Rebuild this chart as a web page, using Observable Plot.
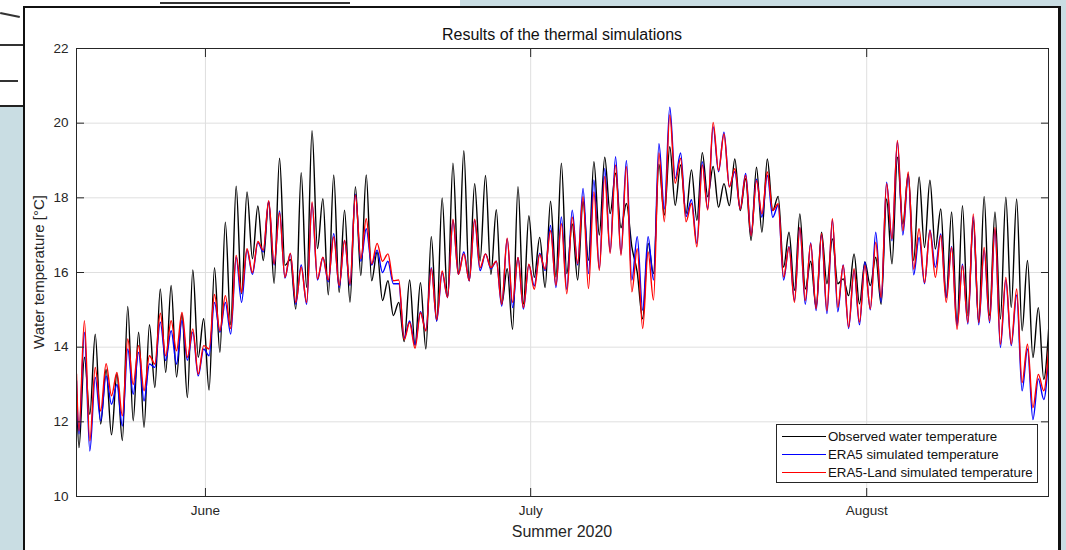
<!DOCTYPE html>
<html><head><meta charset="utf-8">
<script src="https://cdn.jsdelivr.net/npm/d3@7"></script>
<script src="https://cdn.jsdelivr.net/npm/@observablehq/plot@0.6"></script>
<style>
html,body{margin:0;padding:0;}
body{width:1066px;height:550px;overflow:hidden;background:#c9dde3;position:relative;font-family:"Liberation Sans",Arial,Helvetica,sans-serif;}
#bgwin{position:absolute;left:0;top:0;width:460px;height:105px;background:#fff;border-bottom:2px solid #222;}
.bgl{position:absolute;height:2px;background:#333;}
#fig{position:absolute;left:23px;top:6px;width:1033px;height:560px;background:#fff;border-left:2px solid #111;border-top:2px solid #111;border-right:3px solid #111;}
#chart{position:absolute;left:0;top:0;}
.lbl{position:absolute;color:#262626;white-space:nowrap;}
#title{left:76px;width:972px;top:26px;text-align:center;font-size:16px;line-height:18px;color:#111;}
#ylab{left:38px;top:272px;font-size:15px;transform:translate(-50%,-50%) rotate(-90deg);}
#xlab{left:562px;top:532px;font-size:16px;transform:translate(-50%,-50%);}
#legend{position:absolute;left:776px;top:424px;width:260px;height:57px;border:1px solid #262626;background:#fff;}
.row{position:absolute;left:0;height:18px;width:260px;}
.sample{position:absolute;left:5px;width:44px;top:8px;height:0;border-top:1.3px solid #000;}
.ltxt{position:absolute;left:51px;top:0;font-size:13.3px;line-height:18px;color:#111;}
</style></head>
<body>
<div id="bgwin"></div>
<div class="bgl" style="left:0;top:44px;width:23px;"></div>
<div class="bgl" style="left:0;top:80px;width:18px;"></div>
<div class="bgl" style="left:0;top:14px;width:20px;transform:rotate(12deg);"></div>
<div class="bgl" style="left:160px;top:2px;width:190px;"></div>
<div id="fig"></div>
<div id="chart"></div>
<div id="title" class="lbl">Results of the thermal simulations</div>
<div id="ylab" class="lbl">Water temperature [°C]</div>
<div id="xlab" class="lbl">Summer 2020</div>
<div id="legend"></div>
<script>
// ---- data ----
const seriesNames = ["Observed water temperature", "ERA5 simulated temperature", "ERA5-Land simulated temperature"];
const seriesColors = ["#000000", "#0000ff", "#ff0000"];
const firstDay = "2020-05-20";           // first day of the record
const axisStart = "2020-05-20T02:30Z";
const axisEnd = "2020-08-17T18:30Z";
const yTicks = [10, 12, 14, 16, 18, 20, 22];
const xTickDates = ["2020-06-01", "2020-07-01", "2020-08-01"];
const xTickLabels = ["June", "July", "August"];
const startValues = [12.74, 13.1, 13.28];

// daily minima / maxima, one value per day from 20 May
const obsMin = [11.31,12.2,11.94,11.65,11.5,12.03,11.85,12.92,13.32,13.2,12.65,13.73,12.85,13.86,14.6,15.43,16.37,16.32,15.71,16.19,15.02,15.6,16.64,15.4,15.47,15.2,15.92,15.78,15.25,14.85,14.15,14.05,13.95,14.7,15.33,15.95,15.78,16.31,15.95,15.15,14.48,15.15,15.87,15.6,15.88,15.97,15.8,16.33,17.0,17.58,17.2,16.69,14.76,15.97,17.54,17.8,17.58,17.4,18.03,17.75,17.79,17.66,16.86,17.08,17.66,16.14,15.52,15.56,15.07,15.7,15.7,15.38,15.16,15.65,15.15,16.23,17.3,16.32,16.67,16.63,15.33,14.62,14.84,14.66,14.84,14.75,15.06,14.44,13.72,13.14];
const obsMax = [13.73,14.35,13.4,13.28,15.09,14.4,14.6,15.56,15.65,14.89,16.07,14.76,16.13,17.35,18.31,18.16,17.78,17.9,19.06,16.35,18.67,19.8,17.98,18.61,17.67,18.3,18.61,16.55,15.78,15.2,15.8,15.73,16.96,18.0,18.93,19.26,18.38,18.6,17.68,16.1,18.3,17.52,16.94,17.91,18.93,17.3,17.9,18.97,19.09,18.66,17.85,16.0,16.78,18.9,19.37,18.88,18.75,19.21,18.84,18.38,19.04,18.51,18.82,19.04,18.04,17.08,17.57,16.3,17.08,16.9,15.83,16.5,16.28,16.41,17.97,19.09,18.64,18.56,18.47,17.7,17.62,17.79,17.39,18.04,17.62,18.02,17.97,16.32,15.06,14.71];
const era5Min = [11.67,11.22,12.03,12.47,11.89,12.74,12.56,13.46,13.64,13.55,13.65,13.23,13.77,14.4,14.35,15.2,15.95,16.55,16.2,15.85,15.15,15.15,15.8,15.75,15.6,15.65,16.3,16.2,16.0,15.7,14.25,14.07,14.45,14.7,15.33,15.95,15.78,16.05,16.1,15.1,15.06,15.02,15.64,16.05,15.6,15.55,16.2,15.97,16.1,16.55,16.5,15.8,14.99,15.8,17.7,18.52,17.5,16.78,17.7,18.7,18.3,17.7,17.0,17.48,17.48,15.8,15.25,15.15,14.98,14.9,14.95,14.5,14.6,15.0,15.2,16.85,17.0,15.94,15.7,16.14,15.33,14.57,14.62,14.6,14.65,13.99,14.04,12.83,12.06,12.6];
const era5Max = [14.4,13.19,13.23,13.0,13.95,13.86,13.55,14.67,14.44,14.71,14.4,13.95,15.2,15.2,16.4,16.6,16.8,17.9,17.65,16.5,16.2,17.85,16.4,17.04,16.86,18.1,17.17,16.6,16.3,15.7,14.7,14.95,16.13,16.0,17.4,16.55,17.4,16.5,16.3,16.9,16.4,16.2,16.52,17.26,17.49,17.67,18.25,18.48,18.79,19.1,19.0,16.96,16.96,19.45,20.43,19.2,17.95,18.97,19.9,19.76,18.7,18.65,18.5,18.6,17.8,16.7,17.2,16.8,17.0,17.4,16.2,16.05,16.28,17.08,18.42,19.5,18.6,16.94,17.14,17.03,16.7,16.22,17.5,16.6,17.15,15.8,15.4,13.95,13.15,14.0];
const landMin = [11.76,11.49,12.29,12.7,12.16,13.0,12.83,13.55,13.77,13.9,13.73,13.28,13.95,14.44,14.5,15.47,16.0,16.6,16.23,15.87,15.2,15.2,15.83,15.8,15.65,15.69,16.37,16.23,16.3,15.78,14.2,13.97,14.43,14.74,15.33,15.95,15.78,16.13,16.13,15.15,15.2,15.06,15.55,16.09,15.66,15.43,16.24,15.57,16.06,16.51,16.46,15.48,14.5,15.26,17.36,18.39,17.36,16.69,17.67,18.73,18.29,17.7,16.99,17.57,17.66,15.88,15.2,15.25,15.03,14.98,15.07,14.54,14.67,15.03,15.33,16.9,17.12,16.09,15.73,15.87,15.2,14.48,14.66,14.66,14.7,14.08,14.08,13.05,12.38,12.83];
const landMax = [14.71,13.46,13.56,13.32,14.22,14.04,13.77,14.91,14.71,14.93,14.49,14.04,15.41,15.38,16.46,16.64,16.83,17.92,17.6,16.52,16.14,17.89,16.41,16.95,16.86,18.07,17.44,16.78,16.5,15.8,14.66,14.92,16.1,16.04,17.43,16.5,17.43,16.5,16.3,16.92,16.4,16.22,16.48,17.12,17.31,17.48,18.03,18.16,18.57,18.88,18.84,16.64,16.55,19.2,20.22,19.06,17.85,18.88,20.02,19.71,18.78,18.6,18.46,18.69,17.84,16.68,17.21,16.77,17.04,17.44,16.19,16.1,16.19,16.81,18.38,19.54,18.69,17.17,17.12,16.99,16.67,16.18,17.57,16.67,17.21,15.87,15.56,14.08,13.27,14.17];

// ---- build tables ----
const day0 = new Date(firstDay + "T00:00Z");
const xStart = new Date(axisStart), xEnd = new Date(axisEnd);
function buildSeries(name, startVal, mins, maxs) {
  const pts = [{date: xStart, value: startVal, series: name}];
  mins.forEach((m, k) => {
    const d = d3.utcDay.offset(day0, k);
    pts.push({date: d3.utcHour.offset(d, 8), value: m, series: name});
    pts.push({date: d3.utcHour.offset(d, 20), value: maxs[k], series: name});
  });
  return pts;
}
const obs = buildSeries(seriesNames[0], startValues[0], obsMin, obsMax);
const era5 = buildSeries(seriesNames[1], startValues[1], era5Min, era5Max);
const land = buildSeries(seriesNames[2], startValues[2], landMin, landMax);
const xTicks = xTickDates.map(s => new Date(s + "T00:00Z"));
const labelOf = new Map(xTicks.map((d, i) => [+d, xTickLabels[i]]));

const axisColor = "#262626";
const gridColor = "#dfdfdf";
const lineOpts = {x: "date", y: "value", strokeWidth: 1.4, curve: "monotone-x", clip: true};

const chart = Plot.plot({
  width: 1066, height: 550,
  marginLeft: 76, marginRight: 18, marginTop: 48, marginBottom: 54,
  style: {background: "transparent", fontFamily: "'Liberation Sans', Arial, Helvetica, sans-serif"},
  x: {type: "utc", domain: [xStart, xEnd]},
  y: {domain: [10, 22]},
  marks: [
    Plot.gridY(yTicks, {stroke: gridColor, strokeOpacity: 1}),
    Plot.gridX(xTicks, {stroke: gridColor, strokeOpacity: 1}),
    Plot.line(obs, {...lineOpts, stroke: seriesColors[0]}),
    Plot.line(era5, {...lineOpts, stroke: seriesColors[1]}),
    Plot.line(land, {...lineOpts, stroke: seriesColors[2]}),
    Plot.frame({stroke: axisColor, strokeWidth: 1}),
    Plot.axisY(yTicks, {anchor: "left", tickSize: -8, tickFormat: () => "", stroke: axisColor, label: null}),
    Plot.axisY(yTicks, {anchor: "right", tickSize: -8, tickFormat: () => "", stroke: axisColor, label: null}),
    Plot.axisY(yTicks, {anchor: "left", tickSize: 0, tickPadding: 8, fontSize: 13.5, fill: axisColor, label: null}),
    Plot.axisX(xTicks, {anchor: "bottom", tickSize: -8, tickFormat: () => "", stroke: axisColor, label: null}),
    Plot.axisX(xTicks, {anchor: "top", tickSize: -8, tickFormat: () => "", stroke: axisColor, label: null}),
    Plot.axisX(xTicks, {anchor: "bottom", tickSize: 0, tickPadding: 9, fontSize: 13.5, fill: axisColor, tickFormat: d => labelOf.get(+d), label: null})
  ]
});
document.getElementById("chart").appendChild(chart);

// legend
const leg = document.getElementById("legend");
seriesNames.forEach((name, i) => {
  const row = document.createElement("div");
  row.className = "row";
  row.style.top = (3 + i * 18) + "px";
  row.innerHTML = `<div class="sample" style="border-top-color:${seriesColors[i]}"></div><div class="ltxt">${name}</div>`;
  leg.appendChild(row);
});
</script>
</body></html>
